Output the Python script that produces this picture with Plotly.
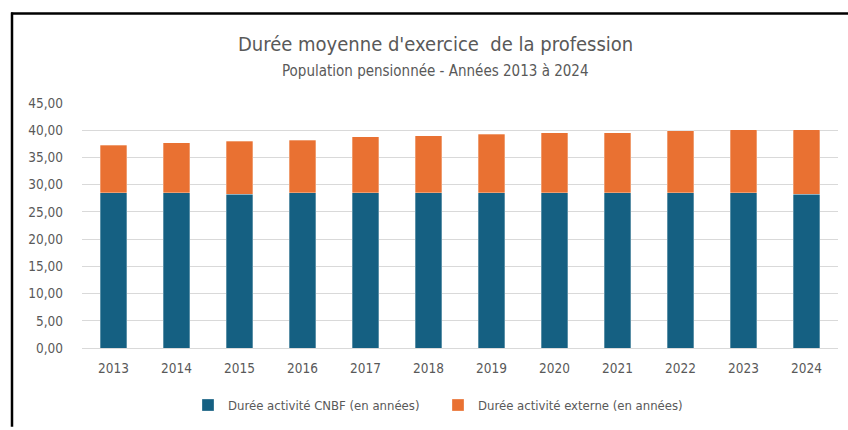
import plotly.graph_objects as go

years = ["2013", "2014", "2015", "2016", "2017", "2018", "2019", "2020", "2021", "2022", "2023", "2024"]
duree_cnbf = [28.5, 28.5, 28.2, 28.5, 28.5, 28.5, 28.5, 28.5, 28.5, 28.5, 28.5, 28.2]
duree_externe = [8.7, 9.2, 9.8, 9.7, 10.3, 10.5, 10.8, 11.0, 11.0, 11.4, 11.6, 11.9]
y_ticks = [0, 5, 10, 15, 20, 25, 30, 35, 40, 45]

W, H = 848, 430
L, R, T, B = 82, 10, 103, 78
pw, ph = W - L - R, H - T - B

def px_x(x):
    return (x - L) / pw

def px_y(y):
    return (H - B - y) / ph

FONT = "Liberation Sans Narrow, Arial Narrow, DejaVu Sans Condensed, sans-serif"
GREY = "#595959"

fig = go.Figure()
fig.add_trace(go.Bar(x=years, y=duree_cnbf, name="Durée activité CNBF (en années)",
                     marker=dict(color="#156082", line=dict(color="rgba(255,255,255,0.5)", width=0.6))))
fig.add_trace(go.Bar(x=years, y=duree_externe, name="Durée activité externe (en années)",
                     marker=dict(color="#E97132", line=dict(color="rgba(255,255,255,0.5)", width=0.6))))

fig.update_layout(
    width=W, height=H,
    margin=dict(l=L, r=R, t=T, b=B),
    barmode="stack", bargap=0.58,
    paper_bgcolor="white", plot_bgcolor="white",
    separators=", ",
    font=dict(family=FONT, color=GREY, size=13),
    showlegend=True,
    legend=dict(orientation="h", x=px_x(188), xanchor="left", y=px_y(410), yanchor="middle",
                font=dict(size=13, color=GREY), traceorder="normal", itemwidth=30,
                entrywidth=205, entrywidthmode="pixels"),
    xaxis=dict(showgrid=False, showline=True, linecolor="#D9D9D9", linewidth=1,
               tickfont=dict(size=13.5, color=GREY), ticks="", ticklabelstandoff=8),
    yaxis=dict(range=[0, 45], tickvals=y_ticks, tickformat=".2f", showgrid=True,
               gridcolor="#D9D9D9", gridwidth=1, zeroline=False, showline=False,
               tickfont=dict(size=13.5, color=GREY), ticklabelstandoff=18),
    annotations=[
        dict(text="Durée moyenne d'exercice  de la profession", xref="paper", yref="paper",
             x=px_x(435), y=px_y(43), xanchor="center", yanchor="middle", showarrow=False,
             font=dict(size=20, color=GREY, family=FONT)),
        dict(text="Population pensionnée - Années 2013 à 2024", xref="paper", yref="paper",
             x=px_x(435), y=px_y(70), xanchor="center", yanchor="middle", showarrow=False,
             font=dict(size=15, color=GREY, family=FONT)),
    ],
    shapes=[
        dict(type="line", xref="paper", yref="paper", x0=px_x(12), x1=px_x(12),
             y0=px_y(11), y1=px_y(432), line=dict(color="black", width=2.5)),
        dict(type="line", xref="paper", yref="paper", x0=px_x(11), x1=px_x(850),
             y0=px_y(12), y1=px_y(12), line=dict(color="black", width=2.5)),
    ],
)

fig.write_html("out.html", config={"displayModeBar": False},
               post_script="document.body.style.margin='0';document.body.style.overflow='hidden';")
